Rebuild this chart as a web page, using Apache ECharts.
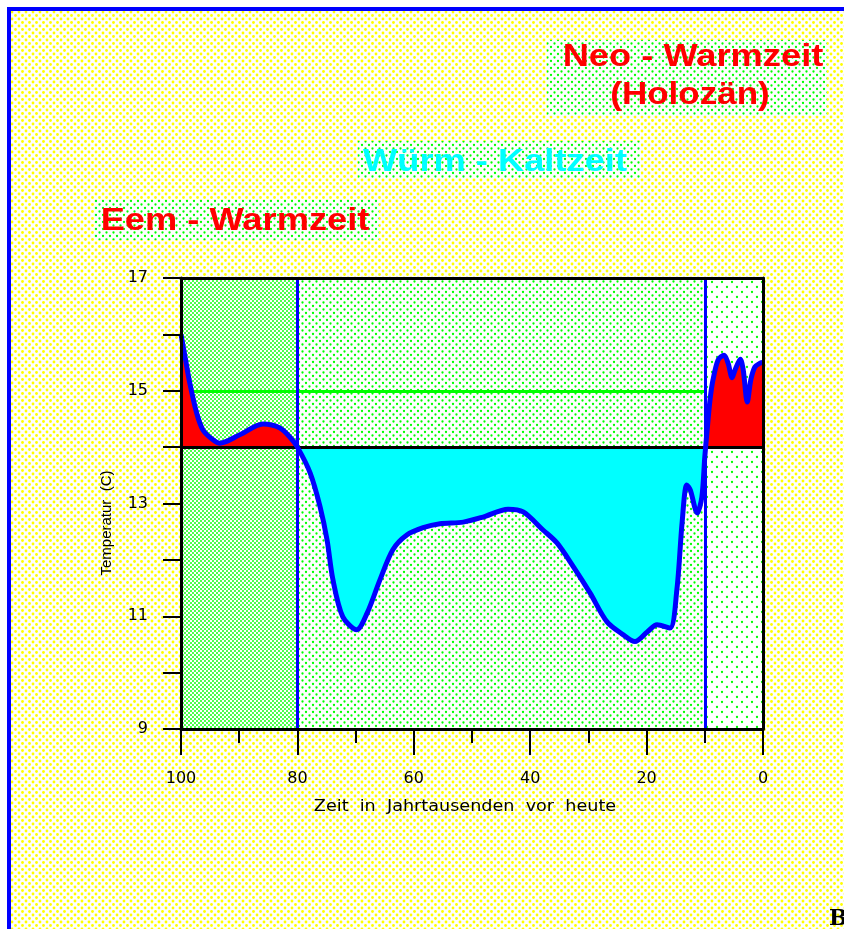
<!DOCTYPE html>
<html>
<head>
<meta charset="utf-8">
<title>Temperatur der letzten 100000 Jahre</title>
<script src="https://cdn.jsdelivr.net/npm/echarts@6/dist/echarts.min.js"></script>
<style>
html, body { margin: 0; padding: 0; background: #fff; }
#chart { width: 844px; height: 929px; }
</style>
</head>
<body>
<div id="chart"></div>
<script>
// Zeit in Jahrtausenden vor heute
var years = [100, 99.3, 98.5, 97.3, 96.2, 94.5, 93.3, 89.9, 85.9, 83, 81.3, 80,
    77.8, 76.1, 74.9, 73.9, 72.2, 69.8, 68, 65.8, 63.6, 61.2, 58.4, 55.5, 51.5,
    48.1, 43.8, 41.2, 37.8, 35.4, 32.6, 29.7, 26.8, 24, 22, 19.9, 18.2, 16,
    14.8, 13.9, 13.1, 12.5, 11.3, 10.5, 10,
    9.6, 9.1, 8.6, 7.7, 6.7, 6, 5.3, 4.8, 3.9, 3.4, 2.7, 2.1, 1.4, 0.5, 0];
// Temperatur (C)
var temps = [16.0, 15.6, 15.14, 14.6, 14.3, 14.13, 14.07, 14.22, 14.41, 14.34, 14.18, 14.0,
    13.54, 12.94, 12.35, 11.65, 10.99, 10.76, 11.06, 11.65, 12.18, 12.44, 12.57, 12.64, 12.67,
    12.76, 12.9, 12.85, 12.53, 12.3, 11.88, 11.41, 10.9, 10.67, 10.55, 10.72, 10.85, 10.79,
    11.47, 12.66, 13.33, 13.24, 12.83, 13.12, 13.83,
    14.3, 14.84, 15.19, 15.55, 15.63, 15.49, 15.23, 15.37, 15.56, 15.37, 14.8, 15.19, 15.42, 15.49, 15.5];

// Grenzen der Zeitabschnitte (ka) und Bezugslinien (C)
var periodBounds = [100, 80, 10, 0];
var baseTemp = 14;
var refTemp = 15;
var refLineStart = 98.4;

var periodNames = ["Eem - Warmzeit", "Würm - Kaltzeit", "Neo - Warmzeit", "(Holozän)"];
var xTitle = "Zeit  in  Jahrtausenden  vor  heute";
var yTitle = "Temperatur  (C)";

// Punktraster als Füllmuster
function dots(size, color, pts, r) {
    var c = document.createElement("canvas");
    c.width = size;
    c.height = size;
    var ctx = c.getContext("2d");
    ctx.fillStyle = "#fff";
    ctx.fillRect(0, 0, size, size);
    ctx.fillStyle = color;
    pts.forEach(function (p) {
        ctx.beginPath();
        ctx.arc(p[0], p[1], r, 0, Math.PI * 2);
        ctx.fill();
    });
    return { image: c, repeat: "repeat" };
}

var yellowPat = dots(7, "#ffff00", [[1.5, 1.5], [5, 5]], 1.4);
var eemPat = dots(4, "#00ff00", [[1, 1], [3, 3]], 0.95);
var wurmPat = dots(7, "#00ff00", [[1.5, 1.5], [5, 5]], 1.15);
var neoPat = dots(10, "#00ff00", [[2, 2], [7, 7]], 1.15);
var boxPat = dots(7, "#00ff00", [[1.5, 1.5], [5, 5]], 1.15);

var points = years.map(function (y, i) {
    return [y, temps[i]];
});

var bigFont = 'bold 31px "Liberation Sans", Arial, sans-serif';

function label(text, x, y, color, sx) {
    return {
        type: "text", x: x, y: y, scaleX: sx, silent: true, z: 5,
        style: {
            text: text, fill: color, font: bigFont,
            align: "center", verticalAlign: "middle",
            textAlign: "center", textVerticalAlign: "middle"
        }
    };
}

var myChart = echarts.init(document.getElementById("chart"));

var option = {
    backgroundColor: "#fff",
    animation: false,
    grid: { left: 181, right: 81, top: 278, bottom: 200 },
    visualMap: {
        show: false,
        type: "piecewise",
        seriesIndex: 0,
        dimension: 1,
        pieces: [
            { gt: baseTemp, lte: 17, color: "#ff0000" },
            { gte: 9, lte: baseTemp, color: "#00ffff" }
        ]
    },
    xAxis: [{
        type: "value", min: 0, max: 100, interval: 20, inverse: true, position: "bottom",
        axisLine: { show: true, onZero: false, lineStyle: { color: "#000", width: 3 } },
        axisTick: { show: true, length: 26, lineStyle: { color: "#000", width: 2 } },
        minorTick: { show: true, splitNumber: 2, length: 14, lineStyle: { color: "#000", width: 2 } },
        splitLine: { show: false },
        axisLabel: { margin: 42, fontFamily: "DejaVu Sans", fontSize: 16, color: "#000" },
        z: 10
    }, {
        type: "value", min: 0, max: 100, inverse: true, position: "top",
        axisLine: { show: true, lineStyle: { color: "#000", width: 3 } },
        axisTick: { show: false }, axisLabel: { show: false }, splitLine: { show: false },
        z: 10
    }],
    yAxis: [{
        type: "value", min: 9, max: 17, interval: 1,
        axisLine: { show: true, onZero: false, lineStyle: { color: "#000", width: 3 } },
        axisTick: { show: true, length: 18, lineStyle: { color: "#000", width: 2 } },
        splitLine: { show: false },
        axisLabel: {
            margin: 33, fontFamily: "DejaVu Sans", fontSize: 16, color: "#000",
            formatter: function (v) { return v % 2 === 1 ? String(v) : ""; }
        },
        z: 10
    }, {
        type: "value", min: 9, max: 17, position: "right",
        axisLine: { show: true, lineStyle: { color: "#000", width: 3 } },
        axisTick: { show: false }, axisLabel: { show: false }, splitLine: { show: false },
        z: 10
    }],
    series: [{
        // Flächen über/unter 14 C
        type: "line",
        data: points,
        smooth: 0.3,
        symbol: "none",
        lineStyle: { width: 0, opacity: 0 },
        areaStyle: { origin: baseTemp, opacity: 1 },
        z: 3,
        silent: true,
        markArea: {
            silent: true,
            data: [
                [{ xAxis: periodBounds[0], itemStyle: { color: eemPat } }, { xAxis: periodBounds[1] }],
                [{ xAxis: periodBounds[1], itemStyle: { color: wurmPat } }, { xAxis: periodBounds[2] }],
                [{ xAxis: periodBounds[2], itemStyle: { color: neoPat } }, { xAxis: periodBounds[3] }]
            ]
        },
        markLine: {
            silent: true,
            symbol: "none",
            label: { show: false },
            data: [
                { yAxis: baseTemp, lineStyle: { color: "#000", width: 3, type: "solid" } },
                [{ coord: [refLineStart, refTemp], lineStyle: { color: "#00ff00", width: 3, type: "solid" } },
                 { coord: [periodBounds[2], refTemp] }],
                { xAxis: periodBounds[1], lineStyle: { color: "#0000ff", width: 3, type: "solid" } },
                { xAxis: periodBounds[2], lineStyle: { color: "#0000ff", width: 3, type: "solid" } }
            ]
        }
    }, {
        // Temperaturkurve
        type: "line",
        data: points,
        smooth: 0.3,
        symbol: "none",
        lineStyle: { color: "#0000ff", width: 5 },
        z: 6,
        silent: true
    }],
    graphic: [
        { type: "rect", silent: true, z: -10, shape: { x: 11, y: 11, width: 833, height: 918 }, style: { fill: yellowPat } },
        { type: "rect", silent: true, z: -5, shape: { x: 7, y: 7, width: 4, height: 922 }, style: { fill: "#0000ff" } },
        { type: "rect", silent: true, z: -5, shape: { x: 7, y: 7, width: 837, height: 4 }, style: { fill: "#0000ff" } },
        // Kästen hinter den Beschriftungen
        { type: "rect", silent: true, z: 1, shape: { x: 547, y: 40, width: 280, height: 76 }, style: { fill: boxPat } },
        { type: "rect", silent: true, z: 1, shape: { x: 358, y: 141, width: 283, height: 37 }, style: { fill: boxPat } },
        { type: "rect", silent: true, z: 1, shape: { x: 95, y: 200, width: 284, height: 40 }, style: { fill: boxPat } },
        label(periodNames[2], 693, 57, "#ff0000", 1.17),
        label(periodNames[3], 690, 95, "#ff0000", 1.13),
        label(periodNames[1], 495, 162, "#00ffff", 1.17),
        label(periodNames[0], 235, 221, "#ff0000", 1.17),
        {
            type: "text", x: 465, y: 807, scaleX: 1.1, silent: true,
            style: {
                text: xTitle, fill: "#000", font: '16px "DejaVu Sans", sans-serif',
                align: "center", verticalAlign: "middle", textAlign: "center", textVerticalAlign: "middle"
            }
        },
        {
            type: "text", x: 107, y: 523, rotation: Math.PI / 2, silent: true,
            style: {
                text: yTitle, fill: "#000", font: '15px "Liberation Sans", Arial, sans-serif',
                align: "center", verticalAlign: "middle", textAlign: "center", textVerticalAlign: "middle"
            }
        },
        {
            type: "text", x: 829, y: 908, silent: true,
            style: { text: "B", fill: "#000", font: 'bold 22px "DejaVu Serif", serif' }
        }
    ]
};

myChart.setOption(option);
window.addEventListener("resize", function () {
    myChart.resize();
});
</script>
</body>
</html>
